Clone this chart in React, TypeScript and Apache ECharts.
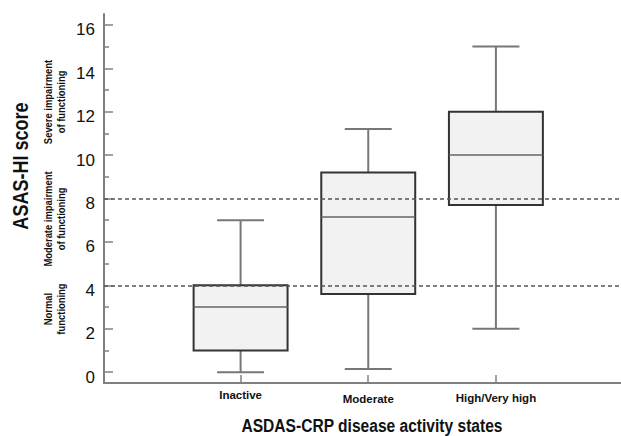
import React, { useEffect, useRef } from "react";
import * as echarts from "echarts";

const categories = ["Inactive", "Moderate", "High/Very high"];
const whiskerLow = [0, 0.15, 2];
const q1Values = [1, 3.6, 7.7];
const medianValues = [3, 7.15, 10];
const q3Values = [4, 9.2, 12];
const whiskerHigh = [7, 11.2, 15];
const yTickLabels = [0, 2, 4, 6, 8, 10, 12, 14, 16];
const yMinorTicks = [1, 3, 5, 7, 9, 11, 13, 15];
const thresholds = [8, 4];
const xTitle = "ASDAS-CRP disease activity states";
const yTitle = "ASAS-HI score";
const zoneLabels = [
  { text: "Severe impairment\nof functioning", y: 102 },
  { text: "Moderate impairment\nof functioning", y: 219 },
  { text: "Normal\nfunctioning", y: 309 },
];

const FONT = "'Liberation Sans', Arial, Helvetica, sans-serif";
const NARROW = 0.82;

export default function App() {
  const ref = useRef<HTMLDivElement>(null);
  useEffect(() => {
    if (!ref.current) return;
    const chart = echarts.init(ref.current, null, { renderer: "svg" });
    const data = categories.map((c, i) => [
      i + 1,
      whiskerLow[i],
      q1Values[i],
      medianValues[i],
      q3Values[i],
      whiskerHigh[i],
    ]);
    const catRich = (pad: number) => ({
      fontFamily: FONT,
      fontWeight: "bold",
      fontSize: 11.5,
      color: "#111",
      padding: [pad, 0, 0, 0],
    });
    const option: any = {
      animation: false,
      backgroundColor: "#ffffff",
      grid: { left: 104, right: 0, top: 14, bottom: 53, containLabel: false, outerBoundsMode: "none" },
      xAxis: {
        type: "value",
        min: -0.07,
        max: 3.98,
        splitLine: { show: false },
        axisLine: { show: true, onZero: false, lineStyle: { color: "#808080", width: 2 } },
        axisTick: {
          show: true,
          inside: true,
          length: 8,
          customValues: [1, 2, 3],
          lineStyle: { color: "#808080", width: 1.5 },
        },
        axisLabel: {
          show: true,
          customValues: [1, 2, 3],
          formatter: (v: number) => {
            const i = Math.round(v) - 1;
            return categories[i] ? `{c${i}|${categories[i]}}` : "";
          },
          fontFamily: FONT,
          fontWeight: "bold",
          fontSize: 11.5,
          color: "#111",
          margin: 6,
          rich: { c0: catRich(0), c1: catRich(4), c2: catRich(2.5) },
        },
      },
      yAxis: [
        {
          type: "value",
          min: -0.5,
          max: 16.5,
          splitLine: { show: false },
          axisLine: { show: true, onZero: false, lineStyle: { color: "#808080", width: 2 } },
          axisTick: {
            show: true,
            inside: true,
            length: 9,
            customValues: yTickLabels,
            lineStyle: { color: "#808080", width: 1.5 },
          },
          axisLabel: {
            show: true,
            customValues: yTickLabels,
            formatter: (v: number) => "\n" + v,
            lineHeight: 10,
            fontFamily: FONT,
            fontSize: 17,
            color: "#111",
            margin: 9,
          },
        },
        {
          type: "value",
          min: -0.5,
          max: 16.5,
          position: "left",
          offset: 0,
          splitLine: { show: false },
          axisLine: { show: false, onZero: false },
          axisTick: {
            show: true,
            inside: true,
            length: 5,
            customValues: yMinorTicks,
            lineStyle: { color: "#808080", width: 1.5 },
          },
          axisLabel: { show: false },
        },
      ],
      series: [
        {
          type: "custom",
          data,
          encode: { x: 0, y: [1, 2, 3, 4, 5] },
          renderItem: (params: any, api: any) => {
            const x = api.value(0);
            const pLow = api.coord([x, api.value(1)]);
            const yQ1 = api.coord([x, api.value(2)])[1];
            const yMed = api.coord([x, api.value(3)])[1];
            const yQ3 = api.coord([x, api.value(4)])[1];
            const yHigh = api.coord([x, api.value(5)])[1];
            const cx = pLow[0];
            const yLow = pLow[1];
            const bw = api.size([1, 0])[0] * 0.736;
            const cap = bw / 4;
            const ws = { stroke: "#777777", lineWidth: 2 };
            return {
              type: "group",
              children: [
                { type: "line", shape: { x1: cx, y1: yHigh, x2: cx, y2: yQ3 }, style: ws },
                { type: "line", shape: { x1: cx, y1: yQ1, x2: cx, y2: yLow }, style: ws },
                { type: "line", shape: { x1: cx - cap, y1: yHigh, x2: cx + cap, y2: yHigh }, style: ws },
                { type: "line", shape: { x1: cx - cap, y1: yLow, x2: cx + cap, y2: yLow }, style: ws },
                {
                  type: "rect",
                  shape: { x: cx - bw / 2, y: yQ3, width: bw, height: yQ1 - yQ3 },
                  style: { fill: "#f2f2f2", stroke: "#333333", lineWidth: 2 },
                },
                {
                  type: "line",
                  shape: { x1: cx - bw / 2, y1: yMed, x2: cx + bw / 2, y2: yMed },
                  style: { stroke: "#666666", lineWidth: 1.5 },
                },
              ],
            };
          },
          markLine: {
            silent: true,
            symbol: "none",
            label: { show: false },
            lineStyle: { type: [4, 3], color: "#555555", width: 1.5 },
            data: thresholds.map((t) => ({ yAxis: t })),
            z: 10,
          },
        },
      ],
      graphic: [
        ...zoneLabels.map((z) => ({
          type: "text",
          x: 54,
          y: z.y,
          rotation: Math.PI / 2,
          scaleX: NARROW,
          style: {
            text: z.text,
            fontFamily: FONT,
            fontWeight: "bold",
            fontSize: 11.5,
            lineHeight: 13.5,
            fill: "#111",
            textAlign: "center",
            textVerticalAlign: "middle",
          },
        })),
        {
          type: "text",
          x: 20,
          y: 166,
          rotation: Math.PI / 2,
          scaleX: NARROW,
          style: {
            text: yTitle,
            fontFamily: FONT,
            fontWeight: "bold",
            fontSize: 22,
            fill: "#111",
            textAlign: "center",
            textVerticalAlign: "middle",
          },
        },
        {
          type: "text",
          x: 372,
          y: 425.5,
          scaleX: NARROW,
          style: {
            text: xTitle,
            fontFamily: FONT,
            fontWeight: "bold",
            fontSize: 19,
            fill: "#111",
            textAlign: "center",
            textVerticalAlign: "middle",
          },
        },
      ],
    };
    chart.setOption(option);
    return () => chart.dispose();
  }, []);
  return (
    <div
      ref={ref}
      style={{ position: "fixed", left: 0, top: 0, width: 621, height: 436 }}
    />
  );
}
